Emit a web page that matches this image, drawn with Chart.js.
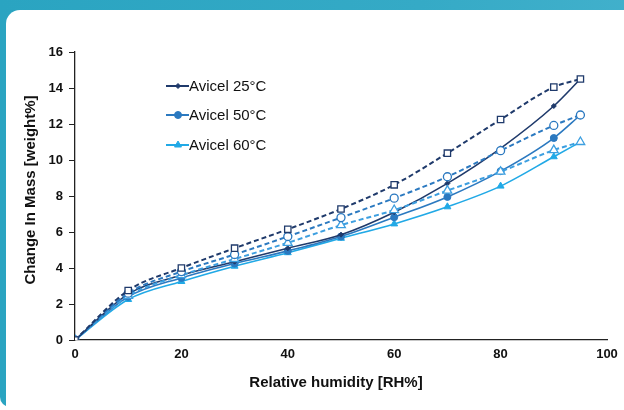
<!DOCTYPE html>
<html>
<head>
<meta charset="utf-8">
<script src="https://cdn.jsdelivr.net/npm/chart.js@4.4.1/dist/chart.umd.min.js"></script>
<style>
  html, body { margin: 0; padding: 0; background: #fff; }
  body { width: 624px; height: 410px; position: relative; overflow: hidden; font-family: "Liberation Sans", Arial, sans-serif; }
  #frame {
    position: absolute; left: 0; top: -30px; width: 700px; height: 437px;
    background: linear-gradient(90deg, #2aa4c1 0%, #35aac6 60%, #45b2cd 100%);
    border-radius: 10px;
  }
  #panel {
    position: absolute; left: 6px; top: 10px; width: 700px; height: 430px;
    background: #fff; border-top-left-radius: 14px;
  }
  #wrap { position: absolute; left: 0; top: 0; width: 624px; height: 410px; }
</style>
</head>
<body>
<div id="frame"></div>
<div id="panel"></div>
<div id="wrap"><canvas id="chart" width="624" height="410"></canvas></div>
<script>
document.addEventListener("DOMContentLoaded", () => {

    // relative humidity steps
    const rh = [0, 10, 20, 30, 40, 50, 60, 70, 80, 90, 95];

    // sorption (solid) and desorption (dashed) curves, weight %
    const avicel25 = [0, 2.55, 3.6, 4.35, 5.1, 5.85, 7.1, 8.7, 10.65, 13.0, 14.5];
    const avicel25Des = [0, 2.75, 4.0, 5.1, 6.15, 7.28, 8.62, 10.38, 12.25, 14.05, 14.5];
    const avicel50 = [0, 2.4, 3.45, 4.25, 4.95, 5.75, 6.82, 7.95, 9.38, 11.22, 12.5];
    const avicel50Des = [0, 2.6, 3.8, 4.75, 5.75, 6.8, 7.88, 9.07, 10.52, 11.92, 12.5];
    const avicel60 = [0, 2.25, 3.25, 4.1, 4.85, 5.65, 6.45, 7.4, 8.55, 10.18, 11.0];
    const avicel60Des = [0, 2.45, 3.6, 4.5, 5.4, 6.38, 7.22, 8.3, 9.35, 10.55, 11.0];

    const xTicks = [0, 20, 40, 60, 80, 100];
    const yTicks = [0, 2, 4, 6, 8, 10, 12, 14, 16];

    const legendLabels = ["Avicel 25°C", "Avicel 50°C", "Avicel 60°C"];
    const xTitle = "Relative humidity [RH%]";
    const yTitle = "Change In Mass [weight%]";

    const NAVY = "#1f3a6b";
    const MID = "#2b79c0";
    const LIGHT = "#21a9e6";
    const LIGHT2 = "#3d9fe0";
    const FONT = "'Liberation Sans', Arial, sans-serif";

    const pts = arr => arr.map((v, i) => ({ x: rh[i], y: v }));

    function series(label, values, color, style, radius, dashed, filled, order) {
        return {
            label: label,
            data: pts(values),
            order: order,
            borderColor: color,
            backgroundColor: filled ? color : "#fff",
            pointBackgroundColor: filled ? color : "#fff",
            pointBorderColor: color,
            pointBorderWidth: filled ? 1 : 1.3,
            pointStyle: style,
            pointRadius: radius,
            borderWidth: dashed ? 2 : 1.6,
            borderDash: dashed ? [5, 3] : [],
            cubicInterpolationMode: "monotone",
            fill: false
        };
    }

    // dashed (open markers) drawn on top
    const datasets = [
        series(legendLabels[0], avicel25, NAVY, "rectRot", 2.5, false, true, 4),
        series(legendLabels[1], avicel50, MID, "circle", 3.5, false, true, 5),
        series(legendLabels[2], avicel60, LIGHT, "triangle", 4, false, true, 6),
        series("25 des", avicel25Des, NAVY, "rect", 4.5, true, false, 1),
        series("50 des", avicel50Des, MID, "circle", 4, true, false, 2),
        series("60 des", avicel60Des, LIGHT2, "triangle", 5, true, false, 3)
    ];

    // =====================
    // LEGEND + AXIS TITLES
    // =====================
    const overlayPlugin = {
        id: "overlay",
        afterDatasetsDraw(chart) {
            const ctx = chart.ctx;
            const ys = [86, 115, 145];
            ctx.save();
            legendLabels.forEach((txt, i) => {
                const ds = chart.data.datasets[i];
                const y = ys[i];
                ctx.strokeStyle = ds.borderColor;
                ctx.lineWidth = 2;
                ctx.beginPath();
                ctx.moveTo(166, y);
                ctx.lineTo(189, y);
                ctx.stroke();
                ctx.fillStyle = ds.borderColor;
                ctx.lineWidth = 1;
                Chart.helpers.drawPoint(ctx, {
                    pointStyle: ds.pointStyle,
                    radius: ds.pointRadius,
                    borderWidth: 1,
                    rotation: 0
                }, 178, y);
                ctx.fillStyle = "#111";
                ctx.font = "15px " + FONT;
                ctx.textBaseline = "middle";
                ctx.textAlign = "left";
                ctx.fillText(txt, 189, y + 1);
            });

            ctx.fillStyle = "#111";
            ctx.font = "bold 15px " + FONT;
            ctx.textAlign = "center";
            ctx.textBaseline = "middle";
            ctx.fillText(xTitle, 336, 383);

            ctx.translate(31, 190);
            ctx.rotate(-Math.PI / 2);
            ctx.fillText(yTitle, 0, 0);
            ctx.restore();
        }
    };

    const tickFont = { family: FONT, size: 13, weight: "bold" };

    new Chart(document.getElementById("chart").getContext("2d"), {
        type: "line",
        data: { datasets: datasets },
        plugins: [overlayPlugin],
        options: {
            responsive: false,
            animation: false,
            layout: { padding: { top: 52, right: 17, left: 8, bottom: 10 } },
            plugins: {
                legend: { display: false },
                tooltip: { enabled: false }
            },
            scales: {
                x: {
                    type: "linear",
                    min: 0,
                    max: 100,
                    afterBuildTicks: s => { s.ticks = xTicks.map(v => ({ value: v })); },
                    afterFit: s => { s.height = 60; },
                    grid: { display: false, drawOnChartArea: false, drawTicks: true, tickLength: 5, color: "#222" },
                    border: { display: true, color: "#222", width: 1.3 },
                    ticks: { color: "#111", font: tickFont, padding: 2, maxRotation: 0 }
                },
                y: {
                    min: 0,
                    max: 16,
                    afterBuildTicks: s => { s.ticks = yTicks.map(v => ({ value: v })); },
                    afterFit: s => { s.width = 67; },
                    grid: { display: true, drawOnChartArea: false, drawTicks: true, tickLength: 6, color: "#222" },
                    border: { display: true, color: "#222", width: 1.3 },
                    ticks: { color: "#111", font: tickFont, padding: 6 }
                }
            }
        }
    });
});
</script>
</body>
</html>
